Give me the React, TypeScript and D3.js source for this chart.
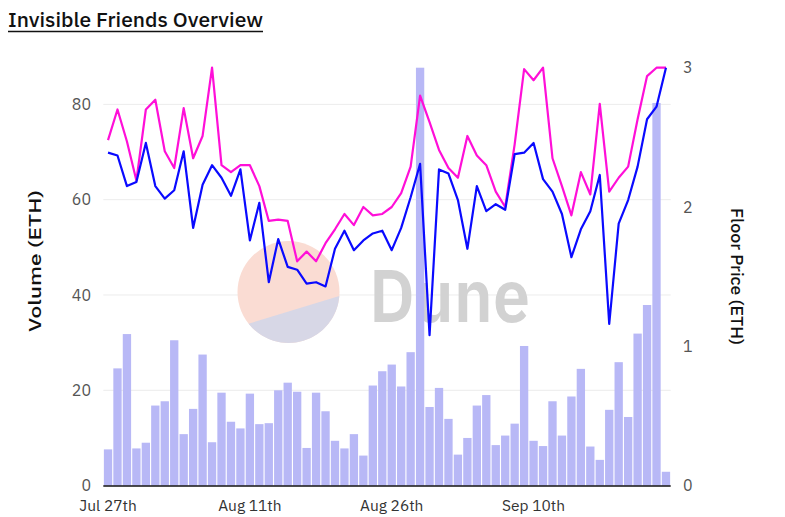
import React from "react";
import * as d3 from "d3";

// one entry per day, Jul 27th – Sep 24th
const days = d3.timeDay.range(new Date(2022, 6, 27), new Date(2022, 8, 25));

const volume = [
  7.6, 24.6, 31.8, 7.8, 9.0, 16.8, 17.7, 30.5, 10.8, 16.1, 27.5, 9.1, 19.5,
  13.4, 12.0, 19.3, 12.9, 13.1, 20.0, 21.6, 19.7, 7.9, 19.5, 15.6, 9.4, 7.8,
  10.8, 6.3, 21.0, 24.0, 25.4, 20.8, 28.0, 87.7, 16.5, 20.5, 14.0, 6.5, 10.0,
  16.8, 19.0, 8.5, 10.5, 13.0, 29.3, 9.4, 8.3, 17.7, 10.5, 18.7, 24.5, 8.2,
  5.4, 15.9, 25.9, 14.4, 31.9, 37.9, 80.3, 2.9,
];

const avgPrice = [
  2.48, 2.7, 2.47, 2.19, 2.7, 2.77, 2.4, 2.28, 2.71, 2.35, 2.51, 3.0, 2.3,
  2.25, 2.3, 2.3, 2.15, 1.9, 1.91, 1.9, 1.61, 1.68, 1.61, 1.74, 1.84, 1.95,
  1.87, 2.0, 1.94, 1.95, 2.0, 2.1, 2.29, 2.8, 2.61, 2.41, 2.28, 2.21, 2.51,
  2.37, 2.3, 2.11, 2.0, 2.45, 2.99, 2.91, 3.0, 2.35, 2.15, 1.94, 2.25, 2.09,
  2.74, 2.11, 2.21, 2.29, 2.63, 2.94, 3.0, 3.0,
];

const floorPrice = [
  2.39, 2.37, 2.15, 2.18, 2.46, 2.15, 2.06, 2.12, 2.4, 1.85, 2.16, 2.3, 2.21,
  2.08, 2.27, 1.76, 2.03, 1.46, 1.77, 1.57, 1.55, 1.45, 1.46, 1.43, 1.7, 1.83,
  1.69, 1.76, 1.81, 1.83, 1.69, 1.85, 2.07, 2.31, 1.08, 2.27, 2.24, 2.05, 1.7,
  2.15, 1.97, 2.02, 1.98, 2.38, 2.39, 2.46, 2.2, 2.11, 1.95, 1.64, 1.84, 1.97,
  2.23, 1.16, 1.88, 2.05, 2.29, 2.63, 2.72, 3.0,
];

const volumeTicks = [0, 20, 40, 60, 80];
const priceTicks = [0, 1, 2, 3];
const dateTicks = [
  { day: 0, label: "Jul 27th" },
  { day: 15, label: "Aug 11th" },
  { day: 30, label: "Aug 26th" },
  { day: 45, label: "Sep 10th" },
];

const W = 785;
const H = 517;
const left = 103.3;
const right = 670.7;
const top = 67.7;
const bottom = 485.6;
const font = "'IBM Plex Sans', 'Open Sans', 'Noto Sans', sans-serif";

export default function App() {
  const x = d3
    .scaleBand<number>()
    .domain(d3.range(days.length))
    .range([left, right])
    .paddingInner(0.12)
    .paddingOuter(0.06);
  const yVol = d3.scaleLinear().domain([0, d3.max(volume)!]).range([bottom, top]);
  const yPrice = d3.scaleLinear().domain([0, 3]).range([bottom, top]);
  const cx = (i: number) => x(i)! + x.bandwidth() / 2;

  const priceLine = d3
    .line<number>()
    .x((_, i) => cx(i))
    .y((d) => yPrice(d));

  // Dune watermark: circle with a lower chord segment
  const wx = 288.5;
  const wy = 292;
  const wr = 51;
  const a1 = (4.5 * Math.PI) / 180;
  const a2 = (141.5 * Math.PI) / 180;
  const p1 = [wx + wr * Math.cos(a1), wy + wr * Math.sin(a1)];
  const p2 = [wx + wr * Math.cos(a2), wy + wr * Math.sin(a2)];
  const segment = `M${p1[0]},${p1[1]} A${wr},${wr} 0 0 1 ${p2[0]},${p2[1]} Z`;

  return (
    <svg
      width={W}
      height={H}
      style={{ position: "absolute", left: 0, top: 0, background: "#fff" }}
      fontFamily={font}
    >
      <text x={8} y={27} fontSize={20} fontWeight={500} fill="#111" textLength={255} lengthAdjust="spacingAndGlyphs">
        Invisible Friends Overview
      </text>
      <line x1={8} x2={263} y1={31.5} y2={31.5} stroke="#111" strokeWidth={1.5} />

      {/* gridlines */}
      {volumeTicks.slice(1).map((t) => (
        <line key={t} x1={left} x2={right} y1={yVol(t)} y2={yVol(t)} stroke="#ececec" strokeWidth={1} />
      ))}

      {/* watermark */}
      <circle cx={wx} cy={wy} r={wr} fill="#fadcd3" />
      <path d={segment} fill="#d7d7e6" />
      <text x={369} y={322} fontSize={74} fontWeight={600} fill="#d2d2d2" textLength={161} lengthAdjust="spacingAndGlyphs">
        Dune
      </text>

      {/* volume bars */}
      {volume.map((v, i) => (
        <rect
          key={i}
          x={x(i)}
          y={yVol(v)}
          width={x.bandwidth()}
          height={bottom - yVol(v)}
          fill="#b8b8f6"
        />
      ))}

      <path d={priceLine(avgPrice) ?? ""} fill="none" stroke="#ff0fd8" strokeWidth={2.2} strokeLinejoin="round" />
      <path d={priceLine(floorPrice) ?? ""} fill="none" stroke="#0a0aff" strokeWidth={2.2} strokeLinejoin="round" />

      <line x1={left} x2={right} y1={bottom + 0.5} y2={bottom + 0.5} stroke="#111" strokeWidth={1.5} />

      {/* left axis */}
      {volumeTicks.map((t) => (
        <text key={t} x={91} y={yVol(t)} dy="0.35em" textAnchor="end" fontSize={16} fill="#555">
          {t}
        </text>
      ))}
      {/* right axis */}
      {priceTicks.map((t) => (
        <text key={t} x={683} y={yPrice(t)} dy="0.35em" fontSize={16} fill="#555">
          {t}
        </text>
      ))}
      {/* date ticks */}
      {dateTicks.map((d) => (
        <text key={d.label} x={cx(d.day)} y={511} textAnchor="middle" fontSize={15.5} fill="#333">
          {d.label}
        </text>
      ))}

      <text
        transform={`translate(40.5,261) rotate(-90)`}
        textAnchor="middle"
        fontSize={16}
        fontWeight={500}
        fill="#111"
        textLength={142}
        lengthAdjust="spacingAndGlyphs"
      >
        Volume (ETH)
      </text>
      <text
        transform={`translate(731,276.5) rotate(90)`}
        textAnchor="middle"
        fontSize={16}
        fontWeight={500}
        fill="#111"
        textLength={137}
        lengthAdjust="spacingAndGlyphs"
      >
        Floor Price (ETH)
      </text>
    </svg>
  );
}
